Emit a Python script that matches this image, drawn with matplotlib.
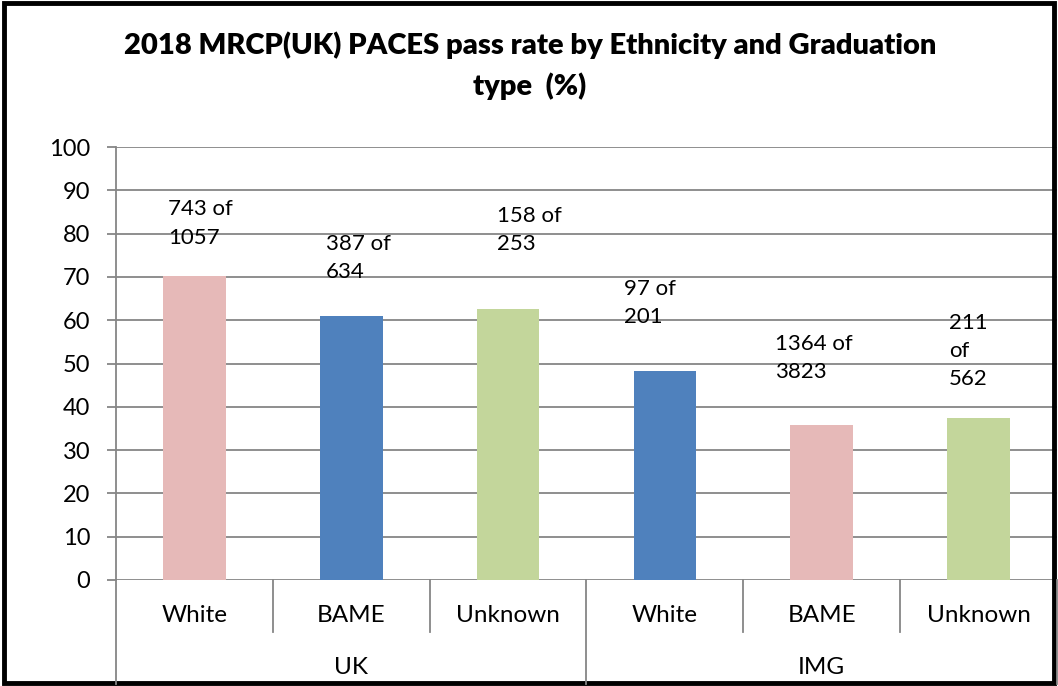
import matplotlib
matplotlib.use("Agg")
import matplotlib.pyplot as plt
from matplotlib.patches import Rectangle
from matplotlib.lines import Line2D
import matplotlib.transforms as mtransforms

plt.rcParams['font.family'] = ['Lato', 'DejaVu Sans']

ethnicity = ["White", "BAME", "Unknown", "White", "BAME", "Unknown"]
graduation = ["UK", "IMG"]
passed = [743, 387, 158, 97, 1364, 211]
candidates = [1057, 634, 253, 201, 3823, 562]
pass_rate = [70.3, 61.0, 62.5, 48.3, 35.7, 37.5]
label_text = ["743 of\n1057", "387 of\n634", "158 of\n253", "97 of\n201",
              "1364 of\n3823", "211\nof\n562"]
colors = ["#E6B9B8", "#4F81BD", "#C3D69B", "#4F81BD", "#E6B9B8", "#C3D69B"]
# label anchor (top-left) in data coords
label_x = [-0.17, 0.84, 1.93, 2.74, 3.70, 4.81]
label_y = [87.9, 79.9, 86.4, 69.5, 56.8, 61.7]

W, H = 1058, 686
fig = plt.figure(figsize=(W/100, H/100), dpi=100)
ax = fig.add_axes([116/W, 1-580/H, (1057-116)/W, (580-147)/H])

x = list(range(len(pass_rate)))
ax.bar(x, pass_rate, width=0.4, color=colors, zorder=3)
ax.set_xlim(-0.5, len(x)-0.5)
ax.set_ylim(0, 100)
ax.set_yticks(range(0, 101, 10))
ax.tick_params(axis='y', labelsize=17, length=6.5, width=1.3, color='#868686', pad=12)
ax.set_xticks([])
ax.yaxis.grid(True, color='#868686', linewidth=1.3, zorder=0)
ax.set_axisbelow(True)
for s in ['top', 'right', 'bottom']:
    ax.spines[s].set_visible(False)
ax.spines['left'].set_color('#868686')
ax.spines['left'].set_linewidth(1.3)

for i in x:
    ax.text(label_x[i], label_y[i], label_text[i], ha='left', va='top',
            fontsize=16, linespacing=1.52, zorder=4)

# multi-level category axis
trans = mtransforms.blended_transform_factory(ax.transData, fig.transFigure)
y0 = 1-580/H
y1 = 1-632/H
y2 = 1-684/H
for i, name in enumerate(ethnicity):
    ax.text(i, 1-615/H, name, transform=trans, ha='center', va='center', fontsize=17.5)
for k in range(len(x)+1):
    bottom = y2 if k % 3 == 0 else y1
    fig.add_artist(Line2D([k-0.5, k-0.5], [y0, bottom], transform=trans,
                          color='#868686', linewidth=1.3))
for g, name in enumerate(graduation):
    ax.text(g*3+1, 1-667/H, name, transform=trans, ha='center', va='center', fontsize=17.5)

fig.text(530/W, 1-45/H, "2018 MRCP(UK) PACES pass rate by Ethnicity and Graduation",
         ha='center', va='center', fontsize=21, fontweight='heavy')
fig.text(530/W, 1-86/H, "type  (%)", ha='center', va='center', fontsize=21, fontweight='heavy')

fig.add_artist(Rectangle((0.004, 0.004), 0.992, 0.992, transform=fig.transFigure,
                         fill=False, edgecolor='black', linewidth=3.5))

fig.savefig("out.png", dpi=100)
